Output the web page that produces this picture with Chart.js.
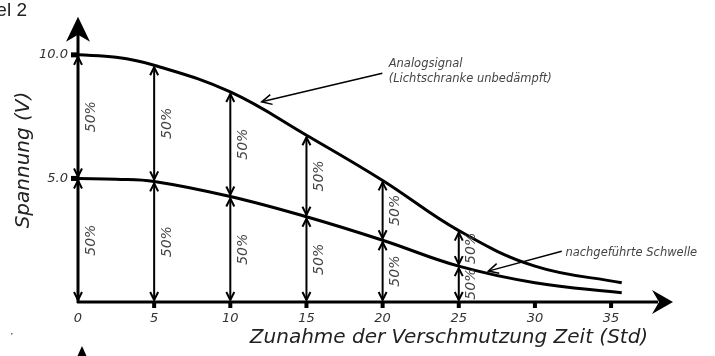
<!DOCTYPE html>
<html>
<head>
<meta charset="utf-8">
<script src="https://cdn.jsdelivr.net/npm/chart.js@4"></script>
<style>
  html, body { margin: 0; padding: 0; background: #fff; }
  #wrap { width: 715px; height: 356px; }
</style>
</head>
<body>
<div id="wrap"><canvas id="chart" width="715" height="356"></canvas></div>
<script>
// Zeit (Std)
const zeit = [0, 2.5, 5, 10, 15, 20, 25, 30, 35.7];
// Analogsignal (Lichtschranke unbedämpft) in V
const analogsignal = [10.0, 9.9, 9.58, 8.5, 6.75, 4.92, 2.89, 1.45, 0.78];
// nachgeführte Schwelle in V
const schwelle = [5.0, 4.97, 4.88, 4.27, 3.45, 2.5, 1.45, 0.78, 0.37];
const xTicks = [0, 5, 10, 15, 20, 25, 30, 35];
const yTicks = [5, 10];
// where the 50% double arrows stand
const markerZeit = [0, 5, 10, 15, 20, 25];
const markerText = '50%';

const titleX = 'Zunahme der Verschmutzung Zeit (Std)';
const titleY = 'Spannung (V)';

// annotation positions in data units
const annoAnalog = { lines: ['Analogsignal', '(Lichtschranke unbedämpft)'], at: [20.4, 9.62], from: [19.98, 9.26], to: [12.06, 8.1] };
const annoSchwelle = { lines: ['nachgeführte Schwelle'], at: [32.0, 1.97], from: [31.76, 2.05], to: [26.94, 1.25] };

const FONT = "'DejaVu Sans', Verdana, sans-serif";

function openHead(ctx, tx, ty, fx, fy, len, half) {
    const dx = tx - fx, dy = ty - fy;
    const d = Math.hypot(dx, dy) || 1;
    const ux = dx / d, uy = dy / d;
    ctx.beginPath();
    ctx.moveTo(tx - ux * len - uy * half, ty - uy * len + ux * half);
    ctx.lineTo(tx, ty);
    ctx.lineTo(tx - ux * len + uy * half, ty - uy * len - ux * half);
    ctx.stroke();
}

function doubleArrow(ctx, px, yTop, yBot) {
    ctx.beginPath();
    ctx.moveTo(px, yTop);
    ctx.lineTo(px, yBot);
    ctx.stroke();
    openHead(ctx, px, yTop, px, yBot, 8, 4);
    openHead(ctx, px, yBot, px, yTop, 8, 4);
}

function rotatedLabel(ctx, text, px, py) {
    ctx.save();
    ctx.translate(px, py);
    ctx.rotate(-Math.PI / 2);
    ctx.fillText(text, 0, 0);
    ctx.restore();
}

const drawing = {
    id: 'drawing',
    beforeDatasetsDraw(chart) {
        const { ctx, scales: { x, y } } = chart;
        const x0 = x.getPixelForValue(0), y0 = y.getPixelForValue(0);
        ctx.save();
        ctx.fillStyle = '#000';
        ctx.strokeStyle = '#000';
        ctx.lineWidth = 3;

        // y axis with arrow
        ctx.beginPath();
        ctx.moveTo(x0, y0 + 1);
        ctx.lineTo(x0, y.top + 16);
        ctx.stroke();
        ctx.beginPath();
        ctx.moveTo(x0, y.top - 1);
        ctx.lineTo(x0 - 12, y.top + 24);
        ctx.lineTo(x0, y.top + 17);
        ctx.lineTo(x0 + 12, y.top + 24);
        ctx.closePath();
        ctx.fill();

        // x axis with arrow
        ctx.beginPath();
        ctx.moveTo(x0 - 1, y0);
        ctx.lineTo(x.right - 14, y0);
        ctx.stroke();
        ctx.beginPath();
        ctx.moveTo(x.right + 1, y0);
        ctx.lineTo(x.right - 20, y0 - 12);
        ctx.lineTo(x.right - 13, y0);
        ctx.lineTo(x.right - 20, y0 + 12);
        ctx.closePath();
        ctx.fill();

        // tick marks
        xTicks.forEach(v => {
            if (v === 0) return;
            ctx.fillRect(x.getPixelForValue(v) - 2, y0, 4, 6);
        });
        yTicks.forEach(v => {
            ctx.fillRect(x0 - 7, y.getPixelForValue(v) - 2.5, 7, 5);
        });
        ctx.restore();
    },
    afterDatasetsDraw(chart) {
        const { ctx, scales: { x, y } } = chart;
        const y0 = y.getPixelForValue(0);
        ctx.save();
        ctx.strokeStyle = '#000';
        ctx.lineWidth = 2;
        ctx.fillStyle = '#444';
        ctx.font = 'italic 14px ' + FONT;
        ctx.textAlign = 'center';
        ctx.textBaseline = 'middle';

        markerZeit.forEach(t => {
            const i = zeit.indexOf(t);
            const px = x.getPixelForValue(t);
            const yLow = y.getPixelForValue(schwelle[i]);
            const yHigh = y.getPixelForValue(analogsignal[i]);
            doubleArrow(ctx, px, yLow + 2, y0 - 2);
            doubleArrow(ctx, px, yHigh + 2, yLow - 2);
            rotatedLabel(ctx, markerText, px + 13, (yLow + y0) / 2);
            rotatedLabel(ctx, markerText, px + 13, (yHigh + yLow) / 2);
        });

        // annotations
        ctx.lineWidth = 1.5;
        ctx.fillStyle = '#444';
        ctx.font = 'italic 11.5px ' + FONT;
        ctx.textAlign = 'left';
        [annoAnalog, annoSchwelle].forEach(a => {
            const fx = x.getPixelForValue(a.from[0]), fy = y.getPixelForValue(a.from[1]);
            const tx = x.getPixelForValue(a.to[0]), ty = y.getPixelForValue(a.to[1]);
            ctx.beginPath();
            ctx.moveTo(fx, fy);
            ctx.lineTo(tx, ty);
            ctx.stroke();
            openHead(ctx, tx, ty, fx, fy, 10, 5);
            const ax = x.getPixelForValue(a.at[0]), ay = y.getPixelForValue(a.at[1]);
            a.lines.forEach((l, k) => ctx.fillText(l, ax, ay + k * 15));
        });
        ctx.restore();
    },
    afterDraw(chart) {
        const { ctx, chartArea } = chart;
        ctx.save();
        ctx.fillStyle = '#222';
        ctx.textAlign = 'center';
        ctx.textBaseline = 'middle';
        ctx.font = 'italic 20px ' + FONT;
        ctx.fillText(titleX, 449, 338);
        rotatedLabel(ctx, titleY, 24, 160);

        // caption cut off at the top left
        ctx.font = "19px 'Liberation Sans', Arial, sans-serif";
        ctx.textAlign = 'right';
        ctx.textBaseline = 'alphabetic';
        ctx.fillText('Beispiel 2', 27, 16);

        // start of the next figure below
        ctx.fillStyle = '#000';
        ctx.beginPath();
        ctx.moveTo(chartArea.left + 4, 346);
        ctx.lineTo(chartArea.left - 1, 357);
        ctx.lineTo(chartArea.left + 9, 357);
        ctx.closePath();
        ctx.fill();
        ctx.fillStyle = '#666';
        ctx.fillRect(11, 333, 1.5, 1.5);
        ctx.restore();
    }
};

const tickFont = { family: FONT, style: 'italic', size: 13 };

new Chart(document.getElementById('chart'), {
    type: 'line',
    data: {
        datasets: [
            {
                label: 'Analogsignal',
                data: zeit.map((t, i) => ({ x: t, y: analogsignal[i] })),
                borderColor: '#000',
                borderWidth: 3,
                pointRadius: 0,
                fill: false,
                tension: 0.4
            },
            {
                label: 'nachgeführte Schwelle',
                data: zeit.map((t, i) => ({ x: t, y: schwelle[i] })),
                borderColor: '#000',
                borderWidth: 3,
                pointRadius: 0,
                fill: false,
                tension: 0.4
            }
        ]
    },
    options: {
        responsive: false,
        animation: false,
        events: [],
        devicePixelRatio: 1,
        layout: { padding: { top: 8, right: 43, left: 0, bottom: 0 } },
        plugins: {
            legend: { display: false },
            tooltip: { enabled: false }
        },
        scales: {
            x: {
                type: 'linear',
                min: 0,
                max: 39,
                grid: { display: false, drawTicks: false },
                border: { display: false },
                afterBuildTicks: s => { s.ticks = xTicks.map(v => ({ value: v })); },
                afterFit: s => { s.height = 54; },
                ticks: {
                    autoSkip: false,
                    maxRotation: 0,
                    padding: 9,
                    color: '#333',
                    font: tickFont,
                    callback: v => v
                }
            },
            y: {
                min: 0,
                max: 11.5,
                grid: { display: false, drawTicks: false },
                border: { display: false },
                afterBuildTicks: s => { s.ticks = yTicks.map(v => ({ value: v })); },
                afterFit: s => { s.width = 78; },
                ticks: {
                    autoSkip: false,
                    padding: 10,
                    color: '#333',
                    font: tickFont,
                    callback: v => v.toFixed(1)
                }
            }
        }
    },
    plugins: [drawing]
});
</script>
</body>
</html>
